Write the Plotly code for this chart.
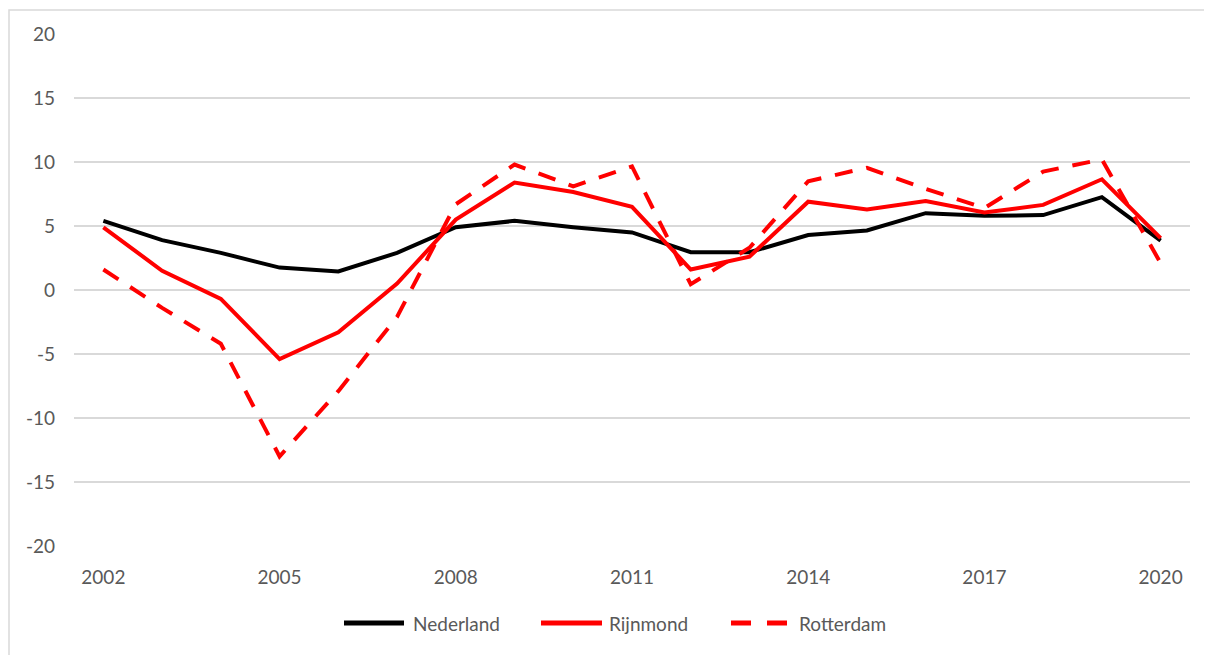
import plotly.graph_objects as go

years = list(range(2002, 2021))
nederland = [5.4, 3.9, 2.9, 1.75, 1.45, 2.9, 4.9, 5.4, 4.9, 4.5, 2.95, 2.95, 4.3, 4.65, 6.0, 5.8, 5.85, 7.25, 3.85]
rijnmond = [4.9, 1.5, -0.7, -5.4, -3.3, 0.5, 5.5, 8.4, 7.65, 6.5, 1.6, 2.6, 6.9, 6.3, 6.95, 6.05, 6.65, 8.65, 4.05]
rotterdam = [1.6, -1.4, -4.2, -13.0, -7.9, -2.1, 6.7, 9.8, 8.1, 9.65, 0.45, 3.3, 8.5, 9.55, 7.9, 6.4, 9.25, 10.2, 2.1]
series_names = ["Nederland", "Rijnmond", "Rotterdam"]
x_ticks = [2002, 2005, 2008, 2011, 2014, 2017, 2020]
y_ticks = [-20, -15, -10, -5, 0, 5, 10, 15, 20]
y_ticktext = ["-20", "-15", "-10", "-5", "0", "5", "10", "15", "20"]

FONT = "Lato, 'Open Sans', sans-serif"
GRAY = "#595959"
RED = "#ff0000"
DASH = "18px,14px"

# page has an 8px body margin; figure coords = page coords - 8
OFF = 8
W, H = 1212 - OFF, 655 - OFF
L, T = 74 - OFF, 34 - OFF
R = W - (1190 - OFF)
B = H - (546 - OFF)
pw, ph = W - L - R, H - T - B


def px(xpage):
    return (xpage - OFF - L) / pw


def py(ypage):
    return 1 - (ypage - OFF - T) / ph


styles = [dict(color="black", width=4), dict(color=RED, width=4), dict(color=RED, width=4, dash=DASH)]
values = [nederland, rijnmond, rotterdam]

fig = go.Figure()
for name, vals, st in zip(series_names, values, styles):
    fig.add_trace(go.Scatter(x=years, y=vals, name=name, mode="lines", line=st, showlegend=False))

fig.update_layout(
    width=W, height=H,
    margin=dict(l=L, r=R, t=T, b=B),
    paper_bgcolor="white", plot_bgcolor="white",
    font=dict(family=FONT, color=GRAY, size=19),
    xaxis=dict(range=[2001.5, 2020.5], tickvals=x_ticks, ticktext=[str(v) for v in x_ticks],
               showgrid=False, zeroline=False, showline=False, ticks="",
               tickfont=dict(family=FONT, size=19, color=GRAY), ticklabelstandoff=18),
    yaxis=dict(range=[-20, 20], tickvals=y_ticks, ticktext=y_ticktext, showgrid=True,
               gridcolor="#d9d9d9", gridwidth=1.5, zeroline=False, showline=False, ticks="",
               tickfont=dict(family=FONT, size=19, color=GRAY), ticklabelstandoff=18),
    showlegend=False,
)

# chart-area border (partially visible, like the reference)
fig.add_shape(type="rect", xref="paper", yref="paper",
              x0=px(9), x1=px(1240), y0=py(680), y1=py(10),
              line=dict(color="#d9d9d9", width=1.5), fillcolor="rgba(0,0,0,0)", layer="below")

# legend drawn as line samples + labels
leg_y = py(623)
leg_lines = [(341, 407), (538, 605), (728, 790)]
leg_text_x = [411, 607, 797]
for (x0, x1), tx, name, st in zip(leg_lines, leg_text_x, series_names, styles):
    line = dict(color=st["color"], width=5)
    if "dash" in st:
        line["dash"] = "20px,16px"
    fig.add_shape(type="line", xref="paper", yref="paper", x0=px(x0 + 3), x1=px(x1 - 3),
                  y0=leg_y, y1=leg_y, line=line)
    fig.add_annotation(x=px(tx), y=leg_y, xref="paper", yref="paper", text=name,
                       showarrow=False, xanchor="left", yanchor="middle",
                       font=dict(family=FONT, size=19, color=GRAY))

fig.write_html("out.html")
